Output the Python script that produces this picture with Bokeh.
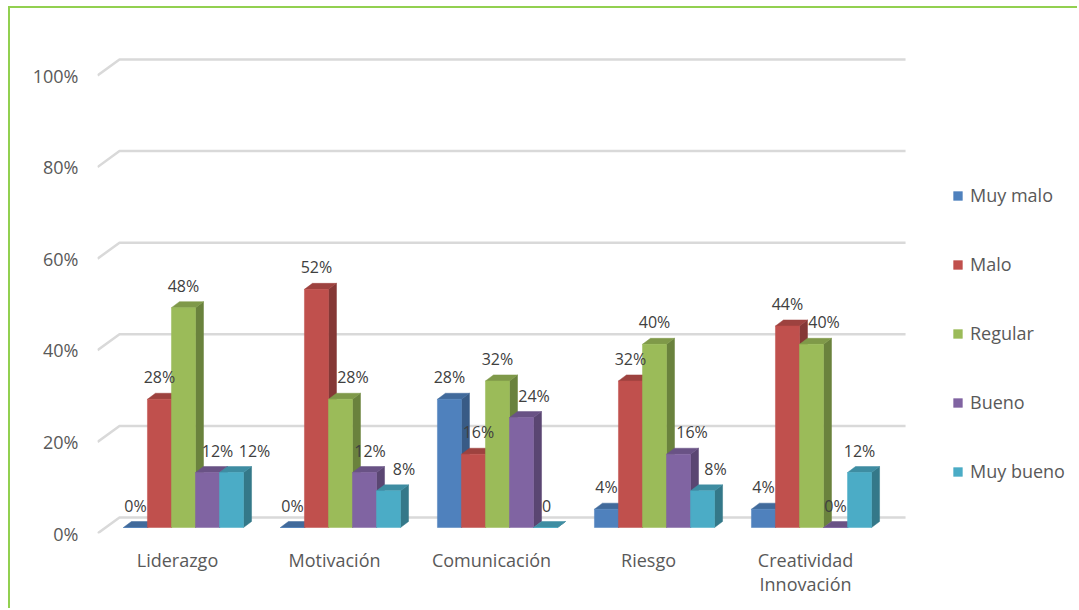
from bokeh.plotting import figure
from bokeh.models import (ColumnDataSource, Legend, LegendItem, Range1d,
                          FixedTicker)
from bokeh.embed import file_html
from bokeh.resources import INLINE
from bokeh.core.properties import value

# ---------------- data ----------------
categories = ["Liderazgo", "Motivación", "Comunicación", "Riesgo", "Creatividad\nInnovación"]
series_names = ["Muy malo", "Malo", "Regular", "Bueno", "Muy bueno"]
muy_malo = [0, 0, 28, 4, 4]
malo = [28, 52, 16, 32, 44]
regular = [48, 28, 32, 40, 40]
bueno = [12, 12, 24, 16, 0]
muy_bueno = [12, 8, 0, 8, 12]
muy_malo_labels = ["0%", "0%", "28%", "4%", "4%"]
malo_labels = ["28%", "52%", "16%", "32%", "44%"]
regular_labels = ["48%", "28%", "32%", "40%", "40%"]
bueno_labels = ["12%", "12%", "24%", "16%", "0%"]
muy_bueno_labels = ["12%", "8%", "0", "8%", "12%"]
y_ticks = [0, 20, 40, 60, 80, 100]

series = [muy_malo, malo, regular, bueno, muy_bueno]
series_labels = [muy_malo_labels, malo_labels, regular_labels, bueno_labels, muy_bueno_labels]

# ---------------- styles ----------------
front_colors = ["#4F81BD", "#C0504D", "#9BBB59", "#8064A2", "#4BACC6"]
top_colors = ["#416A9B", "#9D423F", "#7F9949", "#695285", "#3E8DA2"]
side_colors = ["#385B86", "#853836", "#6A823D", "#5A4672", "#347889"]
# horizontal nudges (in px) of the data labels, per series, per category
label_nudge_px = [
    [0, 0, 0, 0, 0],
    [0, 0, 5, 0, 0],
    [0, 12.5, 0, 0, 12.5],
    [10, 5.5, 12.5, 13.5, 0],
    [23, 15.5, 1, 13, 0],
]
FONT = "Open Sans"
TXT = "#595959"

# geometry (data units); 1 x unit = 157 px, 1 y unit = 4.58 px
PX_X = 157.0
X0, X1 = -0.5096, 5.745
X_GRID_END = 4.637
Y0, Y1 = 0.0, 105.46
FLOOR_DX, FLOOR_DY = 0.1401, 3.493      # full depth of the 3D box
BAR_X, BAR_Y = 0.038, 1.31               # offset of bar front plane
BAR_DX, BAR_DY = 0.051, 1.31             # bar depth
W = 0.153                                 # bar width
LABEL_GAP = 4.8

p = figure(width=1069, height=602, output_backend="svg", toolbar_location=None,
           x_range=Range1d(X0, X1), y_range=Range1d(Y0, Y1),
           min_border_left=87, min_border_right=0, min_border_top=42,
           min_border_bottom=77,
           styles={"margin-left": "8px", "margin-top": "6px",
                   "border-left": "2px solid #92D050",
                   "border-top": "2px solid #92D050"})
p.outline_line_color = None
p.xgrid.visible = False
p.ygrid.visible = False
p.background_fill_color = "white"
p.border_fill_color = "white"

# back wall gridlines with left diagonal
gx, gy = [], []
for t in y_ticks:
    gx.append([X0, X0 + FLOOR_DX, X_GRID_END])
    gy.append([t, t + FLOOR_DY, t + FLOOR_DY])
p.multi_line(xs=gx, ys=gy, line_color="#D9D9D9", line_width=2.5)

# bars
front_renderers = []
lx, ly, lt = [], [], []
for s, vals in enumerate(series):
    left = [i + BAR_X - 2.5 * W + s * W for i in range(len(categories))]
    right = [l + W for l in left]
    bottom = [BAR_Y for _ in vals]
    top = [BAR_Y + v for v in vals]
    side_xs = [[r, r + BAR_DX, r + BAR_DX, r] for r in right]
    side_ys = [[b, b + BAR_DY, t + BAR_DY, t] for b, t in zip(bottom, top)]
    top_xs = [[l, r, r + BAR_DX, l + BAR_DX] for l, r in zip(left, right)]
    top_ys = [[t, t, t + BAR_DY, t + BAR_DY] for t in top]
    p.patches(xs=side_xs, ys=side_ys, fill_color=side_colors[s], line_color=side_colors[s], line_width=0.5)
    p.patches(xs=top_xs, ys=top_ys, fill_color=top_colors[s], line_color=top_colors[s], line_width=0.5)
    src = ColumnDataSource(dict(left=left, right=right, bottom=bottom, top=top))
    r = p.quad(left="left", right="right", bottom="bottom", top="top", source=src,
               fill_color=front_colors[s], line_color=front_colors[s], line_width=0.5)
    front_renderers.append(r)
    for i, v in enumerate(vals):
        lx.append((left[i] + right[i]) / 2 + label_nudge_px[s][i] / PX_X)
        ly.append(BAR_Y + v + LABEL_GAP)
        lt.append(series_labels[s][i])

p.text(x=lx, y=ly, text=lt, text_font=value(FONT), text_font_size="16px",
       text_color="#404040", text_align="center", text_baseline="middle")

# axes
p.xaxis.ticker = FixedTicker(ticks=list(range(len(categories))))
p.xaxis.major_label_overrides = {i: c for i, c in enumerate(categories)}
p.xaxis.axis_line_color = None
p.xaxis.major_tick_line_color = None
p.xaxis.minor_tick_line_color = None
p.xaxis.major_label_standoff = 8
p.xaxis.major_label_text_font = FONT
p.xaxis.major_label_text_font_size = "18px"
p.xaxis.major_label_text_color = TXT
p.xaxis.major_label_text_line_height = 1.0

p.yaxis.ticker = FixedTicker(ticks=y_ticks)
p.yaxis.major_label_overrides = {t: f"{t}%" for t in y_ticks}
p.yaxis.axis_line_color = None
p.yaxis.major_tick_line_color = None
p.yaxis.minor_tick_line_color = None
p.yaxis.major_label_standoff = 13
p.yaxis.major_label_text_font = FONT
p.yaxis.major_label_text_font_size = "18px"
p.yaxis.major_label_text_color = TXT

legend = Legend(items=[LegendItem(label=n, renderers=[r]) for n, r in zip(series_names, front_renderers)],
                location=(855, 50), orientation="vertical",
                glyph_width=11, glyph_height=11, label_height=22, spacing=45,
                padding=0, margin=0, border_line_color=None, background_fill_alpha=0,
                label_text_font=FONT, label_text_font_size="18px", label_standoff=7,
                label_text_color=TXT)
p.add_layout(legend)

open("out.html", "w").write(file_html(p, INLINE))
